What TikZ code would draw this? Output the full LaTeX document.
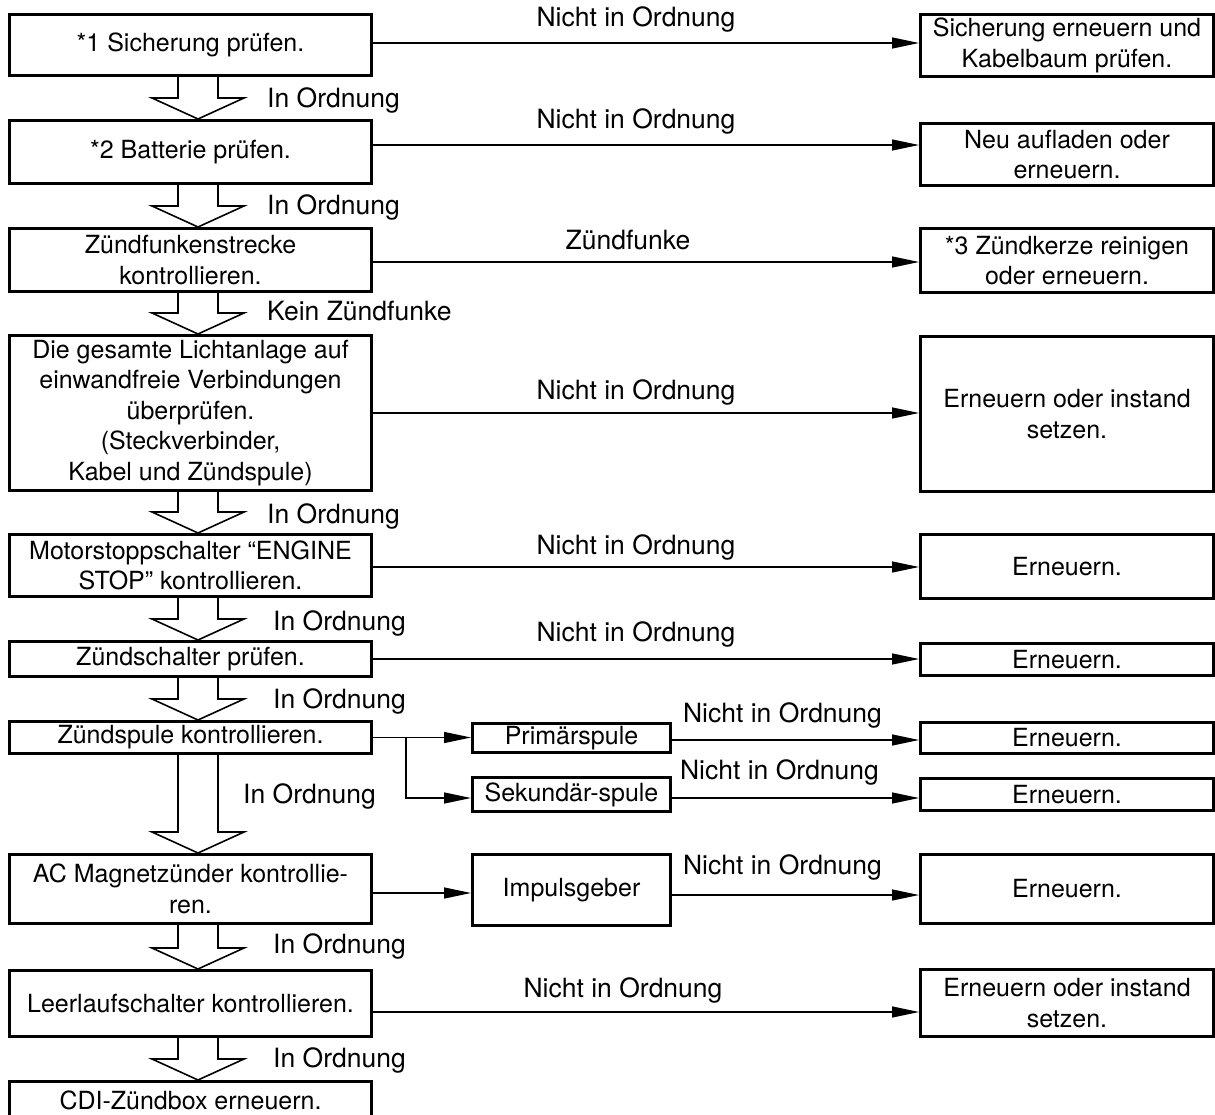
\documentclass[tikz,border=0pt]{standalone}
\usepackage{fontspec}
\setmainfont{TeX Gyre Heros}
\usetikzlibrary{arrows.meta,calc}

\tikzset{
  txt/.style={font=\fontsize{25}{30.5}\selectfont},
  box/.style={txt, draw, line width=3pt, align=center, inner sep=0pt},
  leftbox/.style={box, minimum width=362pt},
  midbox/.style={box, minimum width=198pt},
  rightbox/.style={box, minimum width=293pt},
  link/.style={line width=1.3pt, -{Triangle[length=27pt,width=11pt]}},
  hollow/.style={line width=1.6pt, line join=miter},
  lbl/.style={font=\fontsize{26.5}{30}\selectfont, inner sep=0pt, anchor=base},
  oklbl/.style={font=\fontsize{26.5}{30}\selectfont, inner sep=0pt, anchor=base west}
}

% open block arrow between two boxes of the left column
\newcommand{\okarrow}[2]{%
  \draw[hollow] ($(#1.south -| ax)+(-20,0)$) -- ($(#2.north -| ax)+(-20,-21)$)
    -- ($(#2.north -| ax)+(-46,-21)$) -- (#2.north -| ax)
    -- ($(#2.north -| ax)+(46,-21)$) -- ($(#2.north -| ax)+(20,-21)$)
    -- ($(#1.south -| ax)+(20,0)$);}

\begin{document}
\begin{tikzpicture}[x=1pt,y=-1pt]
\useasboundingbox (0,0) rectangle (1215,1115);
\clip (0,0) rectangle (1215,1115);

\coordinate (ax) at (198,0);
\coordinate (fork) at (406,0);

% Left column
\node[leftbox, minimum height=61pt] (s1) at (190.5,45) {*1 Sicherung prüfen.};
\node[leftbox, minimum height=63pt] (s2) at (190.5,152) {*2 Batterie prüfen.};
\node[leftbox, minimum height=63pt] (s3) at (190.5,260) {Zündfunkenstrecke\\kontrollieren.};
\node[leftbox, minimum height=155pt] (s4) at (190.5,413) {Die gesamte Lichtanlage auf\\einwandfreie Verbindungen\\überprüfen.\\(Steckverbinder,\\Kabel und Zündspule)};
\node[leftbox, minimum height=62pt] (s5) at (190.5,565.5) {Motorstoppschalter “ENGINE\\STOP” kontrollieren.};
\node[leftbox, minimum height=35pt] (s6) at (190.5,659) {Zündschalter prüfen.};
\node[leftbox, minimum height=32pt] (s7) at (190.5,737.5) {Zündspule kontrollieren.};
\node[leftbox, minimum height=69pt] (s8) at (190.5,889) {AC Magnetzünder kontrollie-\\ren.};
\node[leftbox, minimum height=66pt] (s9) at (190.5,1003.5) {Leerlaufschalter kontrollieren.};
\node[leftbox, minimum height=37pt] (s10) at (190.5,1100) {CDI-Zündbox erneuern.};

% Middle column
\node[midbox, minimum height=29pt] (m1) at (571.5,738) {Primärspule};
\node[midbox, minimum height=34pt] (m2) at (571.5,794.5) {Sekundär-spule};
\node[midbox, minimum height=71pt] (m3) at (571.5,890) {Impulsgeber};

% Right column
\node[rightbox, minimum height=62pt] (r1) at (1067,45.5) {Sicherung erneuern und\\Kabelbaum prüfen.};
\node[rightbox, minimum height=62pt] (r2) at (1067,154.5) {Neu aufladen oder\\erneuern.};
\node[rightbox, minimum height=64pt] (r3) at (1067,260.5) {*3 Zündkerze reinigen\\oder erneuern.};
\node[rightbox, minimum height=155pt] (r4) at (1067,414) {Erneuern oder instand\\setzen.};
\node[rightbox, minimum height=64pt] (r5) at (1067,566.5) {Erneuern.};
\node[rightbox, minimum height=32pt] (r6) at (1067,659.5) {Erneuern.};
\node[rightbox, minimum height=31pt] (r7) at (1067,738) {Erneuern.};
\node[rightbox, minimum height=32pt] (r8) at (1067,794.5) {Erneuern.};
\node[rightbox, minimum height=69pt] (r9) at (1067,889) {Erneuern.};
\node[rightbox, minimum height=67pt] (r10) at (1067,1003) {Erneuern oder instand\\setzen.};

% Block arrows downwards
\okarrow{s1}{s2}
\okarrow{s2}{s3}
\okarrow{s3}{s4}
\okarrow{s4}{s5}
\okarrow{s5}{s6}
\okarrow{s6}{s7}
\okarrow{s7}{s8}
\okarrow{s8}{s9}
\okarrow{s9}{s10}

\node[oklbl] (ok1) at (267,108) {In Ordnung};
\node[oklbl] (ok2) at (267,215) {In Ordnung};
\node[oklbl] (ok3) at (267,320) {Kein Zündfunke};
\node[oklbl] (ok4) at (267,523) {In Ordnung};
\node[oklbl] (ok5) at (273,630) {In Ordnung};
\node[oklbl] (ok6) at (273,708) {In Ordnung};
\node[oklbl] (ok7) at (243,803) {In Ordnung};
\node[oklbl] (ok8) at (273,953) {In Ordnung};
\node[oklbl] (ok9) at (273,1067) {In Ordnung};

% Arrows to the right
\draw[link] ([yshift=2pt]s1.east) -- ([yshift=2pt]s1.east -| r1.west)
  node[lbl, midway, xshift=-10pt, yshift=16pt] (n1) {Nicht in Ordnung};
\draw[link] ([yshift=7pt]s2.east) -- ([yshift=7pt]s2.east -| r2.west)
  node[lbl, midway, xshift=-10pt, yshift=16pt] (n2) {Nicht in Ordnung};
\draw[link] ([yshift=-2pt]s3.east) -- ([yshift=-2pt]s3.east -| r3.west)
  node[lbl, midway, xshift=-18pt, yshift=12pt] (n3) {Zündfunke};
\draw[link] (s4.east) -- (s4.east -| r4.west)
  node[lbl, midway, xshift=-10pt, yshift=14pt] (n4) {Nicht in Ordnung};
\draw[link] ([yshift=-1.5pt]s5.east) -- ([yshift=-1.5pt]s5.east -| r5.west)
  node[lbl, midway, xshift=-10pt, yshift=13pt] (n5) {Nicht in Ordnung};
\draw[link] (s6.east) -- (s6.east -| r6.west)
  node[lbl, midway, xshift=-10pt, yshift=18pt] (n6) {Nicht in Ordnung};

% Zuendspule branches
\draw[link] (s7.east) -- (s7.east -| m1.west);
\draw[link] (s7.east -| fork) |- ([yshift=-3.5pt]m2.west);
\draw[link] ([yshift=-2pt]m1.east) -- ([yshift=-2pt]m1.east -| r7.west)
  node[lbl, midway, xshift=-13pt, yshift=18pt] (n7) {Nicht in Ordnung};
\draw[link] ([yshift=-3.5pt]m2.east) -- ([yshift=-3.5pt]m2.east -| r8.west)
  node[lbl, midway, xshift=-16pt, yshift=19pt] (n8) {Nicht in Ordnung};

% Magnetzuender
\draw[link] ([yshift=-4pt]s8.east) -- ([yshift=-4pt]s8.east -| m3.west);
\draw[link] ([yshift=-5pt]m3.east) -- ([yshift=-5pt]m3.east -| r9.west)
  node[lbl, midway, xshift=-13pt, yshift=21pt] (n9) {Nicht in Ordnung};

\draw[link] ([yshift=-8.5pt]s9.east) -- ([yshift=-8.5pt]s9.east -| r10.west)
  node[lbl, midway, xshift=-23pt, yshift=15pt] (n10) {Nicht in Ordnung};

\end{tikzpicture}
\end{document}
